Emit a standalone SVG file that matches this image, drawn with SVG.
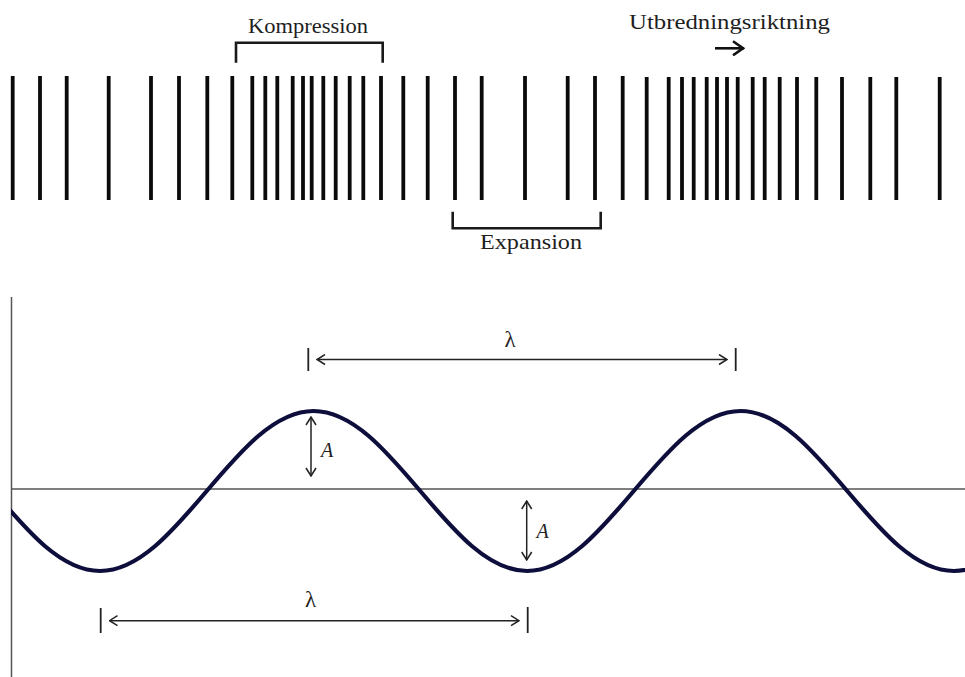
<svg xmlns="http://www.w3.org/2000/svg" width="965" height="677" viewBox="0 0 965 677">
<defs>
<style>
.bar{stroke:#0a0a0a;stroke-width:3.8}
.brk{fill:none;stroke:#1a1a1a;stroke-width:2.6}
.lbl{font-family:"Liberation Serif","DejaVu Serif",serif;font-size:21px;fill:#1e1e1e}
.sym{font-family:"Liberation Serif","DejaVu Serif",serif;font-size:23px;fill:#222}
.ital{font-family:"Liberation Serif","DejaVu Serif",serif;font-size:20px;font-style:italic;fill:#222}
.dim{stroke:#222;stroke-width:1.5;fill:none}
.tick{stroke:#222;stroke-width:1.8}
.axis{stroke:#555;stroke-width:1.5}
.wave{fill:none;stroke:#0e0e3c;stroke-width:4.2}
</style>
<marker id="oh" markerUnits="userSpaceOnUse" viewBox="0 0 10 12" refX="9" refY="6" markerWidth="10" markerHeight="12" orient="auto-start-reverse">
<path d="M1,1 L9,6 L1,11" fill="none" stroke="#222" stroke-width="1.5"/>
</marker>
<marker id="bh" markerUnits="userSpaceOnUse" viewBox="0 0 14 16" refX="13" refY="8" markerWidth="14" markerHeight="16" orient="auto">
<path d="M2,1 L12,8 L2,15" fill="none" stroke="#111" stroke-width="2.6"/>
</marker>
<clipPath id="clip"><rect x="11" y="280" width="954" height="397"/></clipPath>
</defs>
<rect width="965" height="677" fill="#fff"/>

<g id="bars">
<g class="bar">
<line x1="12.7" y1="76" x2="12.7" y2="200"/>
<line x1="40" y1="76" x2="40" y2="200"/>
<line x1="66.7" y1="76" x2="66.7" y2="200"/>
<line x1="108.7" y1="76" x2="108.7" y2="200"/>
<line x1="151" y1="76" x2="151" y2="200"/>
<line x1="179" y1="76" x2="179" y2="200"/>
<line x1="207.3" y1="76" x2="207.3" y2="200"/>
<line x1="232.3" y1="76" x2="232.3" y2="200"/>
<line x1="252.3" y1="76" x2="252.3" y2="200"/>
<line x1="265.3" y1="76" x2="265.3" y2="200"/>
<line x1="277.3" y1="76" x2="277.3" y2="200"/>
<line x1="292.7" y1="76" x2="292.7" y2="200"/>
<line x1="303" y1="76" x2="303" y2="200"/>
<line x1="311.7" y1="76" x2="311.7" y2="200"/>
<line x1="323.3" y1="76" x2="323.3" y2="200"/>
<line x1="335.7" y1="76" x2="335.7" y2="200"/>
<line x1="349.7" y1="76" x2="349.7" y2="200"/>
<line x1="363.3" y1="76" x2="363.3" y2="200"/>
<line x1="381" y1="76" x2="381" y2="200"/>
<line x1="403.3" y1="76" x2="403.3" y2="200"/>
<line x1="427.7" y1="76" x2="427.7" y2="200"/>
<line x1="455" y1="76" x2="455" y2="200"/>
<line x1="481.7" y1="76" x2="481.7" y2="200"/>
<line x1="525" y1="76" x2="525" y2="200"/>
<line x1="567.7" y1="76" x2="567.7" y2="200"/>
<line x1="595" y1="76" x2="595" y2="200"/>
<line x1="622.7" y1="76" x2="622.7" y2="200"/>
<line x1="646.7" y1="77" x2="646.7" y2="200"/>
<line x1="668.7" y1="77" x2="668.7" y2="200"/>
<line x1="682" y1="77" x2="682" y2="200"/>
<line x1="693.7" y1="77" x2="693.7" y2="200"/>
<line x1="706.7" y1="77" x2="706.7" y2="200"/>
<line x1="717" y1="77" x2="717" y2="200"/>
<line x1="727" y1="77" x2="727" y2="200"/>
<line x1="737.7" y1="77" x2="737.7" y2="200"/>
<line x1="752.7" y1="77" x2="752.7" y2="200"/>
<line x1="764.7" y1="77" x2="764.7" y2="200"/>
<line x1="779.7" y1="77" x2="779.7" y2="200"/>
<line x1="797" y1="77" x2="797" y2="200"/>
<line x1="816.3" y1="77" x2="816.3" y2="200"/>
<line x1="842" y1="77" x2="842" y2="200"/>
<line x1="870.3" y1="77" x2="870.3" y2="200"/>
<line x1="896.3" y1="77" x2="896.3" y2="200"/>
<line x1="939.7" y1="77" x2="939.7" y2="200"/>
</g>
</g>

<g id="kompression">
<path class="brk" d="M236 62.7 V42.7 H382.7 V62.7"/>
<text class="lbl" x="248" y="33" textLength="120" lengthAdjust="spacingAndGlyphs">Kompression</text>
</g>

<g id="utbredning">
<text class="lbl" x="629" y="29" textLength="201" lengthAdjust="spacingAndGlyphs">Utbredningsriktning</text>
</g>

<g id="expansion">
<path class="brk" d="M452.7 211.7 V228.3 H600.7 V211.7"/>
<text class="lbl" x="480" y="249" textLength="102" lengthAdjust="spacingAndGlyphs">Expansion</text>
</g>

<g id="axes">
<line class="axis" x1="11.5" y1="297" x2="11.5" y2="677"/>
<line class="axis" x1="11" y1="489" x2="965" y2="489"/>
</g>

<g id="wave" clip-path="url(#clip)">
<path class="wave" d="M-113.5 411 C-35.9 411 22.4 571 100 571 C177.6 571 235.9 411 313.5 411 C391.1 411 449.4 571 527 571 C604.6 571 662.9 411 740.5 411 C818.1 411 876.4 571 954 571 C1031.6 571 1089.9 411 1167.5 411"/>
</g>

<g id="connectors">
<line x1="715" y1="48.3" x2="744" y2="48.3" stroke="#111" stroke-width="2.6" marker-end="url(#bh)"/>
<line class="tick" x1="308.3" y1="348" x2="308.3" y2="371"/>
<line class="tick" x1="735.7" y1="348" x2="735.7" y2="371"/>
<line class="dim" x1="317" y1="359.5" x2="727" y2="359.5" marker-start="url(#oh)" marker-end="url(#oh)"/>
<line class="tick" x1="100.7" y1="608" x2="100.7" y2="633"/>
<line class="tick" x1="527.7" y1="607" x2="527.7" y2="633"/>
<line class="dim" x1="109.5" y1="620.7" x2="519" y2="620.7" marker-start="url(#oh)" marker-end="url(#oh)"/>
<line class="dim" x1="311" y1="417" x2="311" y2="476" marker-start="url(#oh)" marker-end="url(#oh)"/>
<line class="dim" x1="526.7" y1="501" x2="526.7" y2="560" marker-start="url(#oh)" marker-end="url(#oh)"/>
</g>

<g id="labels">
<text class="sym" x="510" y="347" text-anchor="middle">λ</text>
<text class="sym" x="310.5" y="607" text-anchor="middle">λ</text>
<text class="ital" x="321" y="457">A</text>
<text class="ital" x="536.5" y="538">A</text>
</g>
</svg>
